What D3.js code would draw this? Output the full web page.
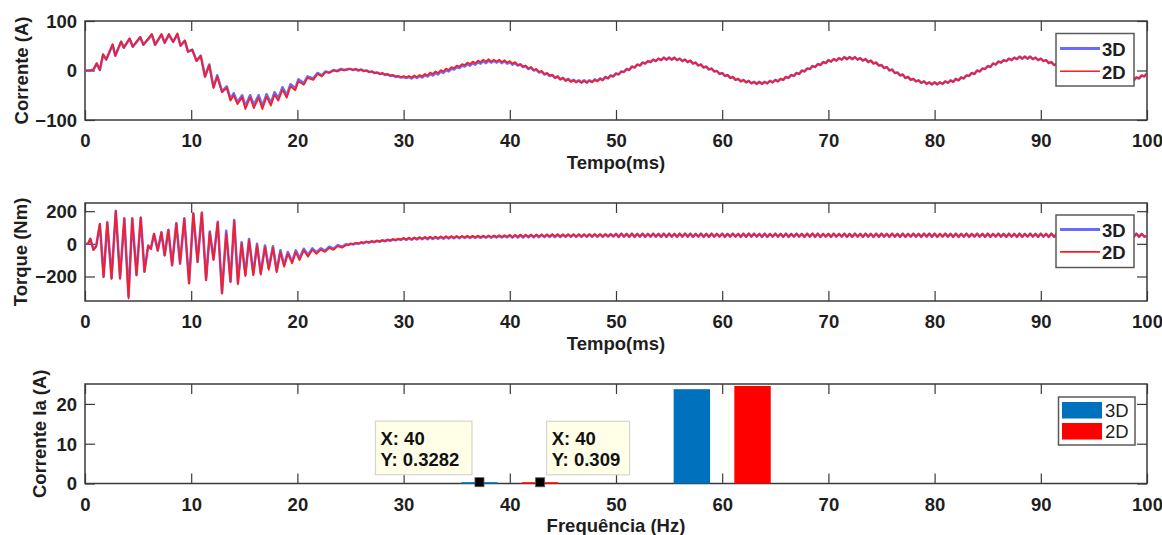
<!DOCTYPE html>
<html lang="pt-BR">
<head>
<meta charset="utf-8">
<title>Corrente, torque e espectro — modelos 3D e 2D</title>
<script src="https://cdn.jsdelivr.net/npm/d3@7/dist/d3.min.js"></script>
<style>
  html, body { margin: 0; padding: 0; background: #fff; }
  svg { display: block; }
  text { font-family: "Liberation Sans", Arial, Helvetica, sans-serif; fill: #1e1e1e; }
</style>
</head>
<body>
<svg id="fig" width="1162" height="535"></svg>
<script>
// ---------------- dados ----------------
const modelos = ["3D", "2D"];
const ticksTempo = [0, 10, 20, 30, 40, 50, 60, 70, 80, 90, 100];
const ticksCorrente = [-100, 0, 100];
const ticksTorque = [-200, 0, 200];
const ticksEspectro = [0, 10, 20];

// Corrente de fase (A) no transitório inicial: instantes (ms) e valores
const tCorrIni = [0,0.5,0.8,1.1,1.4,1.7,2.0,2.6,2.85,3.4,3.65,4.2,4.5,5.2,5.5,6.3,6.6,7.2,7.5,7.9,
  8.3,8.7,9.0,9.4,9.7,10.1,10.5,10.9,11.3,11.7,12.1,12.45,12.9,13.35,13.7,14.0,14.35,14.8,15.1,15.55,
  15.9,16.35,16.7,17.1,17.5,17.85,18.2,18.6,19.0,19.35,19.8,20.1,20.6,20.95,21.5,21.9,22.3,22.65,23.0,23.4,
  23.75,24.1,24.4,24.75];
const corr3DIni = [0,0,2,14,1,32,22,52,30,58,46,64,48,67,52,72,52,72,56,72,
  58,73,50,60,38,42,20,30,-12,12,-34,-10,-42,-32,-58,-46,-64,-50,-72,-50,
  -70,-50,-72,-48,-66,-44,-56,-34,-50,-28,-36,-18,-26,-12,-16,-5,-10,-2,-4,1,
  -1,3,1,3];
const corr2DIni = [0,0,2,15,1,33,22,53,30,59,46,65,48,68,52,74,52,74,56,74,
  58,75,50,61,38,42,19,29,-13,11,-35,-12,-44,-35,-61,-50,-68,-54,-78,-54,
  -76,-55,-78,-53,-71,-49,-61,-39,-55,-32,-40,-22,-29,-15,-19,-7,-12,-3,-5,0,
  -2,2,0,2];

// Torque eletromagnético (Nm) no transitório inicial
const tTorqIni = [0,0.3,0.5,0.8,1.05,1.4,1.75,2.1,2.5,2.9,3.3,3.7,4.1,4.45,4.85,5.25,5.6,5.95,6.2,6.5,
  6.85,7.2,7.5,7.85,8.2,8.6,8.95,9.35,9.8,10.2,10.6,11.0,11.4,11.75,12.1,12.5,12.9,13.3,13.7,14.05,
  14.4,14.75,15.1,15.45,15.85,16.2,16.55,16.95,17.3,17.7,18.05,18.4,18.75,19.1,19.5,19.85,20.2,20.6,21.0,21.4,
  21.8,22.2,22.6,23.0,23.4,23.8,24.2,24.6,24.8];
const torq3DIni = [0,2,30,-35,-15,120,-200,130,-210,200,-210,155,-320,155,-190,160,-170,-10,-30,60,
  -40,70,-70,85,-130,125,-120,155,-240,185,-110,190,-220,75,-95,135,-300,80,-230,145,
  -240,10,-190,30,-185,0,-180,-10,-150,-15,-165,-40,-130,-50,-110,-40,-90,-30,-70,-28,
  -52,-28,-42,-18,-30,-8,-18,-2,-6];
const torq2DIni = [0,2,32,-38,-15,124,-205,133,-215,203,-214,158,-335,157,-193,162,-172,-12,-32,62,
  -42,72,-72,87,-133,127,-123,158,-244,188,-113,193,-224,72,-98,132,-305,65,-235,142,
  -248,2,-198,22,-194,-8,-189,-18,-160,-24,-175,-50,-140,-60,-120,-50,-100,-40,-80,-36,
  -62,-36,-50,-25,-37,-14,-24,-7,-10];

// Regime: amostras a cada 0,25 ms, de 25 ms a 100 ms
const tRegime = d3.range(301).map(i => 25 + i * 0.25);
const corr3DReg = [3,1,3,0,2,-1,0,-3,-2,-5,-4,-7,-6,-9,-8,-11,-10,-13,-12,-14,-13,-15,-13,
  -16,-12,-15,-11,-14,-9,-12,-7,-10,-5,-8,-2,-5,1,-2,4,2,7,5,10,8,13,10,15,12,17,14,19,15,20,16,20,
  16,20,15,19,14,17,12,15,10,12,7,9,3,6,0,2,-4,-2,-8,-6,-11,-9,-15,-12,-18,-15,-20,-17,-22,-19,-23,-20,-24,-20,
  -24,-20,-23,-18,-21,-16,-19,-13,-16,-10,-12,-6,-8,-2,-3,3,1,8,6,12,10,16,14,19,17,22,19,24,21,26,22,26,
  22,26,21,24,19,22,17,20,14,16,10,12,6,8,2,4,-2,-1,-7,-5,-11,-9,-15,-13,-19,-17,-22,-19,-24,-21,-26,-23,-27,-23,
  -27,-23,-26,-21,-24,-19,-22,-17,-19,-13,-15,-9,-11,-5,-7,0,-2,4,3,9,7,13,11,17,15,21,18,23,20,25,22,27,23,27,
  23,27,22,25,20,23,17,20,14,16,10,11,5,7,0,2,-5,-4,-10,-8,-15,-13,-19,-17,-22,-20,-25,-22,-27,-24,-28,-24,
  -28,-24,-27,-22,-25,-20,-23,-17,-20,-14,-16,-10,-11,-5,-7,0,-2,4,3,9,7,14,12,18,16,21,19,24,21,26,23,28,24,28,
  24,28,23,26,21,24,19,21,15,17,11,13,7,9,2,4,-3,-1,-8,-6,-12,-10,-16,-14,-20,-18,-23,-20,-25,-22,-27,-23,-27,
  -23,-27,-22,-25,-20,-23,-18,-20,-14,-16,-10,-12,-6];
const corr2DReg = [3,1,3,0,2,-1,0,-3,-2,-5,-4,-7,-5,-8,-7,-10,-9,-12,-11,-13,-11,-13,-11,
  -14,-10,-13,-9,-12,-7,-10,-4,-7,-2,-5,1,-2,4,1,7,5,10,8,13,11,16,13,18,15,20,17,22,18,23,18,22,
  18,22,17,21,16,19,14,17,11,13,8,10,4,7,1,3,-3,-1,-7,-5,-10,-9,-15,-12,-18,-15,-21,-18,-23,-20,-24,-21,-25,-21,
  -25,-21,-24,-19,-22,-17,-20,-13,-16,-10,-12,-6,-8,-2,-3,3,1,8,6,12,10,16,14,19,17,22,19,24,21,26,22,26,
  22,26,21,24,19,22,17,20,14,16,10,12,6,8,2,4,-2,-1,-7,-5,-11,-9,-15,-13,-19,-17,-22,-19,-24,-21,-26,-23,-27,-23,
  -27,-23,-26,-21,-24,-19,-22,-17,-19,-13,-15,-9,-11,-5,-7,0,-2,4,3,9,7,13,11,17,15,21,18,23,20,25,22,27,23,27,
  23,27,22,25,20,23,17,20,14,16,10,11,5,7,0,2,-5,-4,-10,-8,-15,-13,-19,-17,-22,-20,-25,-22,-27,-24,-28,-24,
  -28,-24,-27,-22,-25,-20,-23,-17,-20,-14,-16,-10,-11,-5,-7,0,-2,4,3,9,7,14,12,18,16,21,19,24,21,26,23,28,24,28,
  24,28,23,26,21,24,19,21,15,17,11,13,7,9,2,4,-3,-1,-8,-6,-12,-10,-16,-14,-20,-18,-23,-20,-25,-22,-27,-23,-27,
  -23,-27,-22,-25,-20,-23,-18,-20,-14,-16,-10,-12,-6];
const torq3DReg = [0,-4,4,0,8,4,12,7,15,10,18,13,21,16,24,19,27,22,29,24,
  33,24,35,25,36,27,38,28,39,29,40,30,41,31,42,32,43,33,44,34,45,35,45,36,46,36,46,37,47,37,47,38,48,38,48,39,49,39,49,40,
  52,38,52,39,53,39,53,40,54,40,54,41,55,41,55,42,56,42,56,42,56,43,57,43,57,43,57,43,57,44,58,44,58,44,58,44,58,45,59,45,
  61,43,62,44,61,43,62,43,61,44,62,43,61,44,62,44,61,43,62,43,
  62,44,61,43,62,44,63,44,62,43,61,44,62,43,61,43,62,44,61,44,
  62,43,61,44,62,44,61,43,62,43,63,44,62,44,61,43,62,43,61,44,
  62,44,61,43,62,43,61,44,62,44,61,43,62,44,63,43,62,43,61,44,
  61,43,62,44,61,44,62,43,61,43,62,44,61,43,62,44,61,43,62,43,
  62,44,61,43,62,44,61,43,62,43,61,44,62,44,61,43,62,44,63,43,
  62,43,61,44,62,44,61,43,62,43,61,44,62,43,61,44,62,44,61,43,
  62,43,61,44,62,44,61,43,62,44,61,43,62,43,61,44,62,44,61,43,
  62,44,61,43,62,43,61,44,62,44,61,43,62,43,61,44,62,44,61,43,
  62,43,61,44,62,44,61,43,62,43,61,44,62,44,61,43,62,43,61,44,
  48];
const torq2DReg = [2,-2,6,2,10,6,14,9,17,12,20,15,23,18,26,21,29,24,31,26,
  36,27,38,28,39,30,41,31,42,32,43,33,44,34,45,35,46,36,47,37,48,38,48,39,49,39,49,40,50,40,50,41,51,41,51,42,52,42,52,43,
  55,41,55,42,56,42,56,43,57,43,57,44,58,44,58,45,59,45,59,45,57,44,58,44,58,44,58,44,58,45,59,45,59,45,59,45,59,46,60,46,
  61,43,62,44,61,43,62,43,61,44,62,43,61,44,62,44,61,43,62,43,
  62,44,61,43,62,44,63,44,62,43,61,44,62,43,61,43,62,44,61,44,
  62,43,61,44,62,44,61,43,62,43,63,44,62,44,61,43,62,43,61,44,
  62,44,61,43,62,43,61,44,62,44,61,43,62,44,63,43,62,43,61,44,
  61,43,62,44,61,44,62,43,61,43,62,44,61,43,62,44,61,43,62,43,
  62,44,61,43,62,44,61,43,62,43,61,44,62,44,61,43,62,44,63,43,
  62,43,61,44,62,44,61,43,62,43,61,44,62,43,61,44,62,44,61,43,
  62,43,61,44,62,44,61,43,62,44,61,43,62,43,61,44,62,44,61,43,
  62,44,61,43,62,43,61,44,62,44,61,43,62,43,61,44,62,44,61,43,
  62,43,61,44,62,44,61,43,62,43,61,44,62,44,61,43,62,43,61,44,
  48];

// Espectro da corrente Ia (A) por frequência (Hz)
const frequencias = [40, 60];
const ia3D = [0.3282, 23.7];
const ia2D = [0.309, 24.5];

// ---------------- estilo e geometria ----------------
const FONTE = 18.5;
const cores = {
  eixo: "#3a3a3a",
  linha3D: "#6a6aff",
  linha2D: "#ff1c1c",
  barra3D: "#0072bd",
  barra2D: "#ff0000"
};
const X0 = 85, X1 = 1147;
const desvioGrupo = 2.857;   // deslocamento (Hz) de cada barra dentro do grupo
const larguraBarra = 3.43;   // largura (Hz) de cada barra

const svg = d3.select("#fig");
const x = d3.scaleLinear().domain([0, 100]).range([X0, X1]);

function serie(tIni, vIni, tReg, vReg) {
  return d3.zip(tIni, vIni).concat(d3.zip(tReg, vReg));
}

// Eixos estilo caixa com marcas internas nos quatro lados
function desenhaEixos(g, y, top, bottom, ticksY) {
  const estiloTicks = sel => {
    sel.select(".domain").remove();
    sel.selectAll("line").attr("stroke", cores.eixo).attr("stroke-width", 1.2);
    sel.attr("font-size", null).attr("font-family", null);
  };
  g.append("g").attr("transform", `translate(0,${bottom})`)
    .call(d3.axisBottom(x).tickValues(ticksTempo).tickSize(-10).tickSizeOuter(0))
    .call(estiloTicks)
    .call(s => s.selectAll("text").attr("y", 27).attr("dy", null)
      .attr("font-size", FONTE).attr("font-weight", "bold"));
  g.append("g").attr("transform", `translate(0,${top})`)
    .call(d3.axisTop(x).tickValues(ticksTempo).tickSize(-10).tickSizeOuter(0).tickFormat(() => ""))
    .call(estiloTicks);
  g.append("g").attr("transform", `translate(${X0},0)`)
    .call(d3.axisLeft(y).tickValues(ticksY).tickSize(-10).tickSizeOuter(0).tickPadding(8))
    .call(estiloTicks)
    .call(s => s.selectAll("text").attr("dy", "0.35em")
      .attr("font-size", FONTE).attr("font-weight", "bold"));
  g.append("g").attr("transform", `translate(${X1},0)`)
    .call(d3.axisRight(y).tickValues(ticksY).tickSize(-10).tickSizeOuter(0).tickFormat(() => ""))
    .call(estiloTicks);
  g.append("rect").attr("x", X0).attr("y", top).attr("width", X1 - X0).attr("height", bottom - top)
    .attr("fill", "none").attr("stroke", cores.eixo).attr("stroke-width", 1.5);
}

function rotulos(g, top, bottom, textoY, xBaseY, textoX) {
  g.append("text")
    .attr("transform", `translate(${xBaseY},${(top + bottom) / 2}) rotate(-90)`)
    .attr("text-anchor", "middle").attr("font-size", FONTE).attr("font-weight", "bold")
    .text(textoY);
  g.append("text")
    .attr("x", (X0 + X1) / 2).attr("y", bottom + 48.5)
    .attr("text-anchor", "middle").attr("font-size", FONTE).attr("font-weight", "bold")
    .text(textoX);
}

function painelTemporal(cfg) {
  const { top, bottom, dominio, ticksY, s3D, s2D, textoY, xBaseY, id, legenda } = cfg;
  const y = d3.scaleLinear().domain(dominio).range([bottom, top]);
  const g = svg.append("g");
  svg.append("clipPath").attr("id", id).append("rect")
    .attr("x", X0).attr("y", top).attr("width", X1 - X0).attr("height", bottom - top);

  desenhaEixos(g, y, top, bottom, ticksY);

  const linha = d3.line().x(d => x(d[0])).y(d => y(d[1]));
  const gl = g.append("g").attr("clip-path", `url(#${id})`);
  gl.append("path").datum(s3D).attr("d", linha)
    .attr("fill", "none").attr("stroke", cores.linha3D).attr("stroke-width", 2.6)
    .attr("stroke-linejoin", "round");
  gl.append("path").datum(s2D).attr("d", linha)
    .attr("fill", "none").attr("stroke", cores.linha2D).attr("stroke-width", 1.7)
    .attr("stroke-linejoin", "round");

  rotulos(g, top, bottom, textoY, xBaseY, "Tempo(ms)");

  // legenda
  const L = legenda;
  const gleg = g.append("g");
  gleg.append("rect").attr("x", L.x).attr("y", L.y).attr("width", L.w).attr("height", L.h)
    .attr("fill", "#fff").attr("stroke", "#5a5a5a").attr("stroke-width", 1.5);
  modelos.forEach((m, i) => {
    const yy = L.y + L.linha0 + i * L.passo;
    gleg.append("line").attr("x1", L.x + 4).attr("x2", L.x + 44).attr("y1", yy).attr("y2", yy)
      .attr("stroke", i === 0 ? cores.linha3D : cores.linha2D)
      .attr("stroke-width", i === 0 ? 2.8 : 1.6);
    gleg.append("text").attr("x", L.x + 46).attr("y", yy + 7.5)
      .attr("font-size", FONTE).attr("font-weight", "bold").text(m);
  });
}

// ---------------- painel 1: corrente ----------------
painelTemporal({
  id: "clipCorr", top: 21, bottom: 120, dominio: [-100, 100], ticksY: ticksCorrente,
  s3D: serie(tCorrIni, corr3DIni, tRegime, corr3DReg),
  s2D: serie(tCorrIni, corr2DIni, tRegime, corr2DReg),
  textoY: "Corrente (A)", xBaseY: 27.5,
  legenda: { x: 1056, y: 33.5, w: 78, h: 52.5, linha0: 15, passo: 22.7 }
});

// ---------------- painel 2: torque ----------------
painelTemporal({
  id: "clipTorq", top: 203, bottom: 301, dominio: [-350, 250], ticksY: ticksTorque,
  s3D: serie(tTorqIni, torq3DIni, tRegime, torq3DReg),
  s2D: serie(tTorqIni, torq2DIni, tRegime, torq2DReg),
  textoY: "Torque (Nm)", xBaseY: 27,
  legenda: { x: 1056, y: 215, w: 78, h: 52.5, linha0: 14.5, passo: 22.4 }
});

// ---------------- painel 3: espectro da corrente ----------------
(function () {
  const top = 384, bottom = 483.5;
  const y = d3.scaleLinear().domain([0, 25]).range([bottom, top]);
  const g = svg.append("g");
  desenhaEixos(g, y, top, bottom, ticksEspectro);

  const largPx = x(larguraBarra) - x(0);
  const grupos = [
    { nome: "3D", valores: ia3D, desvio: -desvioGrupo, cor: cores.barra3D },
    { nome: "2D", valores: ia2D, desvio: desvioGrupo, cor: cores.barra2D }
  ];
  grupos.forEach(gr => {
    g.append("g").selectAll("rect").data(d3.zip(frequencias, gr.valores)).join("rect")
      .attr("x", d => x(d[0] + gr.desvio) - largPx / 2)
      .attr("width", largPx)
      .attr("y", d => y(d[1]))
      .attr("height", d => Math.max(1.5, y(0) - y(d[1])))
      .attr("fill", gr.cor);
  });

  rotulos(g, top, bottom, "Corrente Ia (A)", 45.5, "Frequência (Hz)");

  // marcadores de dados (datatips) na componente de 40 Hz
  const iTip = frequencias.indexOf(40);
  grupos.forEach((gr, k) => {
    const fx = frequencias[iTip], v = gr.valores[iTip];
    const mx = x(fx + gr.desvio), my = y(v);
    const txt = ["X: " + fx, "Y: " + v];
    const w = k === 0 ? 96.5 : 83, h = 53.5;
    const bx = k === 0 ? mx - 7.5 - w : mx + 6.5;
    const by = my - 7.5 - h;
    const tip = g.append("g");
    tip.append("rect").attr("x", bx).attr("y", by).attr("width", w).attr("height", h)
      .attr("fill", "#ffffe8").attr("stroke", "#d4d4d4").attr("stroke-width", 1.2);
    txt.forEach((t, j) => {
      tip.append("text").attr("x", bx + 5).attr("y", by + 23.5 + j * 21.3)
        .attr("font-size", FONTE).attr("font-weight", "bold").style("fill", "#111").text(t);
    });
    g.append("rect").attr("x", mx - 4.5).attr("y", my - 4.5).attr("width", 9).attr("height", 9)
      .attr("fill", "#000").attr("stroke", "#555").attr("stroke-width", 0.8);
  });

  // legenda das barras
  const L = { x: 1058.5, y: 397, w: 76.5, h: 48 };
  const gleg = g.append("g");
  gleg.append("rect").attr("x", L.x).attr("y", L.y).attr("width", L.w).attr("height", L.h)
    .attr("fill", "#fff").attr("stroke", "#5a5a5a").attr("stroke-width", 1.5);
  grupos.forEach((gr, i) => {
    const yy = L.y + 5 + i * 21;
    gleg.append("rect").attr("x", L.x + 3.5).attr("y", yy).attr("width", 40).attr("height", 16.5)
      .attr("fill", gr.cor);
    gleg.append("text").attr("x", L.x + 46.5).attr("y", yy + 15)
      .attr("font-size", FONTE).text(gr.nome);
  });
})();
</script>
</body>
</html>
